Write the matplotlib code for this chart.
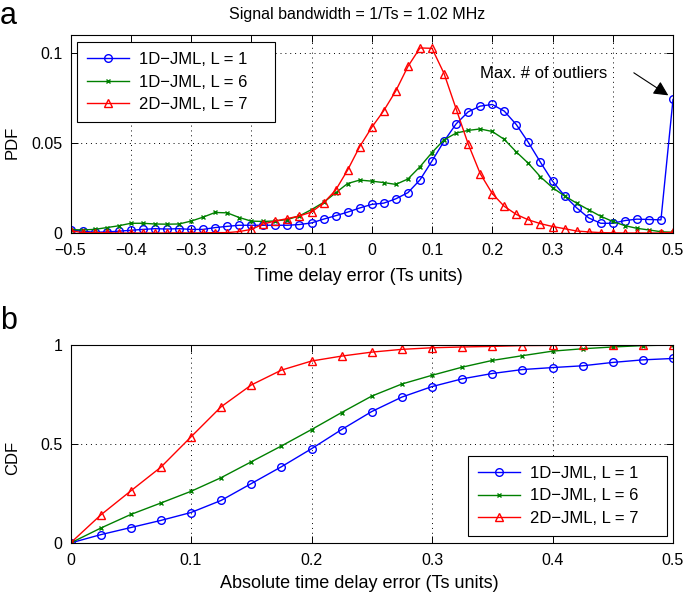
import numpy as np
import matplotlib.pyplot as plt

plt.rcParams['font.family'] = ['Liberation Sans', 'DejaVu Sans']

# panel a: PDF of time delay error, points every 0.02 Ts
x_pdf = np.round(np.arange(-0.5, 0.5001, 0.02), 2)
pdf_1d_l1 = [0.0017, 0.0010, 0.0004, 0.0006, 0.0010, 0.0015, 0.0020, 0.0024, 0.0022, 0.0024,
             0.0020, 0.0020, 0.0030, 0.0037, 0.0043, 0.0043, 0.0043, 0.0043, 0.0043, 0.0047,
             0.0056, 0.0077, 0.0096, 0.0116, 0.0139, 0.0159, 0.0166, 0.0190, 0.0224, 0.0295,
             0.0400, 0.0510, 0.0606, 0.0673, 0.0705, 0.0714, 0.0677, 0.0602, 0.0503, 0.0393,
             0.0288, 0.0207, 0.0140, 0.0084, 0.0054, 0.0054, 0.0069, 0.0077, 0.0075, 0.0073,
             0.0742]
pdf_1d_l6 = [0.0019, 0.0017, 0.0020, 0.0030, 0.0040, 0.0054, 0.0054, 0.0050, 0.0049, 0.0050,
             0.0066, 0.0088, 0.0114, 0.0112, 0.0086, 0.0066, 0.0064, 0.0067, 0.0075, 0.0095,
             0.0130, 0.0170, 0.0223, 0.0275, 0.0294, 0.0288, 0.0280, 0.0270, 0.0300, 0.0368,
             0.0447, 0.0518, 0.0555, 0.0570, 0.0578, 0.0564, 0.0520, 0.0450, 0.0387, 0.0312,
             0.0252, 0.0206, 0.0166, 0.0129, 0.0093, 0.0064, 0.0041, 0.0026, 0.0017, 0.0007,
             0.0004]
pdf_2d_l7 = [0.0013, 0.0002, 0.0002, 0.0002, 0.0000, 0.0000, 0.0000, 0.0000, 0.0000, 0.0001,
             0.0000, 0.0001, 0.0002, 0.0002, 0.0008, 0.0020, 0.0050, 0.0067, 0.0080, 0.0095,
             0.0116, 0.0167, 0.0238, 0.0350, 0.0480, 0.0587, 0.0680, 0.0790, 0.0925, 0.1028,
             0.1026, 0.0886, 0.0690, 0.0495, 0.0330, 0.0219, 0.0148, 0.0103, 0.0073, 0.0052,
             0.0036, 0.0024, 0.0011, 0.0006, 0.0002, 0.0001, 0.0000, 0.0000, 0.0000, 0.0000,
             0.0004]

# panel b: CDF of absolute time delay error, points every 0.025 Ts
x_cdf = np.round(np.arange(0, 0.5001, 0.025), 3)
cdf_1d_l1 = [0.0, 0.042, 0.078, 0.114, 0.154, 0.215, 0.300, 0.385, 0.476, 0.573, 0.664,
             0.737, 0.790, 0.829, 0.856, 0.876, 0.886, 0.895, 0.912, 0.925, 0.932]
cdf_1d_l6 = [0.0, 0.075, 0.144, 0.202, 0.261, 0.330, 0.410, 0.490, 0.573, 0.659, 0.742,
             0.803, 0.847, 0.888, 0.922, 0.946, 0.969, 0.981, 0.990, 0.997, 1.0]
cdf_2d_l7 = [0.0, 0.141, 0.263, 0.383, 0.536, 0.688, 0.798, 0.873, 0.919, 0.944, 0.964,
             0.978, 0.986, 0.990, 0.993, 0.997, 0.998, 1.0, 1.0, 1.0, 1.0]

labels = ['1D\u2212JML, L = 1', '1D\u2212JML, L = 6', '2D\u2212JML, L = 7']
fs_tick = 11.5
fs_lab = 13

fig = plt.figure(figsize=(6.85, 5.97), dpi=100)
W, H = 685.0, 597.0
ax1 = fig.add_axes([70.5 / W, 1 - 233 / H, (673 - 70.5) / W, (233 - 35) / H])
ax2 = fig.add_axes([70.5 / W, 1 - 543 / H, (673 - 70.5) / W, (543 - 345) / H])

def style(ax):
  ax.grid(True, linestyle=(0, (1, 4)), color='k', linewidth=0.7)
  ax.tick_params(direction='in', top=True, right=True, labelsize=fs_tick, length=5, width=0.7)
  ax.tick_params(axis='x', pad=7)
  ax.tick_params(axis='y', pad=6)
  for s in ax.spines.values():
    s.set_linewidth(0.8)

def add_legend(ax, loc, bbox):
  # MATLAB-like box: fixed width, extra room on the right of the labels
  leg = ax.legend(loc=loc, bbox_to_anchor=bbox, mode='expand', fontsize=12, fancybox=False,
                  edgecolor='k', framealpha=1, handlelength=2.5, handletextpad=0.6,
                  borderpad=0.6, labelspacing=0.45, borderaxespad=0)
  leg.get_frame().set_linewidth(0.8)

ax1.plot(x_pdf, pdf_1d_l1, '-o', color='#0000ff', lw=1, ms=5.5, mfc='none', mew=1, label=labels[0])
ax1.plot(x_pdf, pdf_1d_l6, '-x', color='#008000', lw=1, ms=3.5, mew=1, label=labels[1])
ax1.plot(x_pdf, pdf_2d_l7, '-^', color='#ff0000', lw=1, ms=5.5, mfc='none', mew=1, label=labels[2])
ax1.set_xlim(-0.5, 0.5)
ax1.set_ylim(0, 0.11)
ax1.set_xticks(np.round(np.arange(-0.5, 0.51, 0.1), 1))
ax1.set_xticklabels(['\u22120.5', '\u22120.4', '\u22120.3', '\u22120.2', '\u22120.1', '0',
                     '0.1', '0.2', '0.3', '0.4', '0.5'])
ax1.set_yticks([0, 0.05, 0.1])
ax1.set_yticklabels(['0', '0.05', '0.1'])
style(ax1)
ax1.set_xlabel('Time delay error (Ts units)', fontsize=fs_lab)
ax1.xaxis.set_label_coords(0.477, -0.175)
ax1.set_ylabel('PDF', fontsize=12)
ax1.yaxis.set_label_coords(-0.084, 0.46)
add_legend(ax1, 'upper left', (0.0108, 0.5, 0.3286, 0.4646))
ax1.annotate('Max. # of outliers', xy=(x_pdf[-1], pdf_1d_l1[-1]), xytext=(0.285, 0.0885),
             fontsize=12, ha='center', va='center')
ax1.annotate('', xy=(x_pdf[-1] - 0.002, pdf_1d_l1[-1] + 0.001), xytext=(0.435, 0.089),
             arrowprops=dict(arrowstyle='-|>', color='k', lw=0.8, mutation_scale=22,
                             shrinkA=0, shrinkB=3))

ax2.plot(x_cdf, cdf_1d_l1, '-o', color='#0000ff', lw=1, ms=5.5, mfc='none', mew=1, label=labels[0])
ax2.plot(x_cdf, cdf_1d_l6, '-x', color='#008000', lw=1, ms=3.5, mew=1, label=labels[1])
ax2.plot(x_cdf, cdf_2d_l7, '-^', color='#ff0000', lw=1, ms=5.5, mfc='none', mew=1, label=labels[2])
ax2.set_xlim(0, 0.5)
ax2.set_ylim(0, 1)
ax2.set_xticks([0, 0.1, 0.2, 0.3, 0.4, 0.5])
ax2.set_xticklabels(['0', '0.1', '0.2', '0.3', '0.4', '0.5'])
ax2.set_yticks([0, 0.5, 1])
ax2.set_yticklabels(['0', '0.5', '1'])
style(ax2)
ax2.set_xlabel('Absolute time delay error (Ts units)', fontsize=fs_lab)
ax2.xaxis.set_label_coords(0.48, -0.16)
ax2.set_ylabel('CDF', fontsize=12)
ax2.yaxis.set_label_coords(-0.084, 0.43)
add_legend(ax2, 'lower left', (0.6598, 0.0354, 0.3303, 0.4))

fig.text(357 / W, 1 - 14 / H, 'Signal bandwidth = 1/Ts = 1.02 MHz', fontsize=11.5,
         ha='center', va='center')
fig.text(0, 1 - 16 / H, 'a', fontsize=22, ha='left', va='center')
fig.text(0, 1 - 321 / H, 'b', fontsize=22, ha='left', va='center')

plt.savefig('out.png', dpi=100)
